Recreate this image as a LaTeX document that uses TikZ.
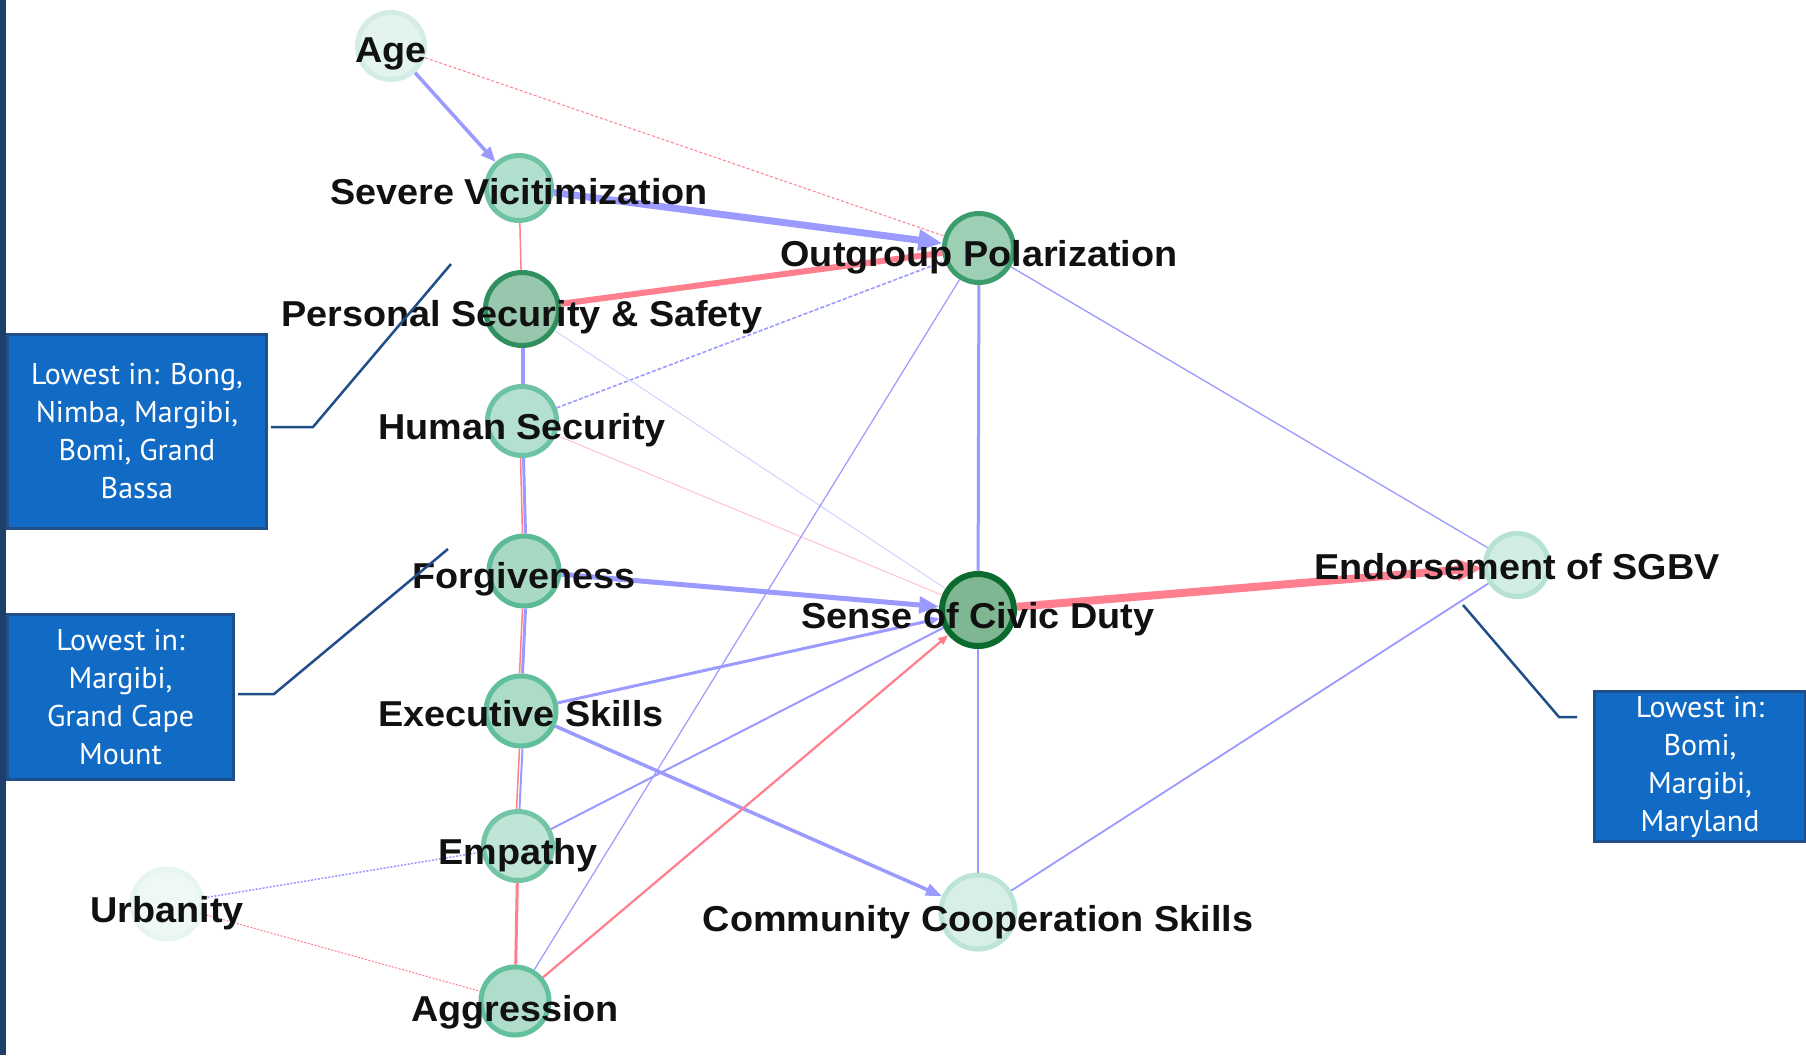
\documentclass[tikz,border=0pt]{standalone}
\usepackage{fontspec}
\setmainfont{Liberation Sans}
\newfontfamily\labfont{Liberation Sans}[FakeStretch=1.05]
\newfontfamily\boxfont{PT Sans}
\usetikzlibrary{arrows.meta}
\definecolor{eblue}{HTML}{9A9AFF}
\definecolor{ered}{HTML}{FF7F8F}
\definecolor{boxblue}{HTML}{116BC4}
\definecolor{boxedge}{HTML}{1F4E89}
\definecolor{navybar}{HTML}{1D3F6A}
\definecolor{txt}{HTML}{111111}
\definecolor{fAge}{HTML}{E3F3EF}\definecolor{dAge}{HTML}{D3ECE5}
\definecolor{fSev}{HTML}{B2E0CF}\definecolor{dSev}{HTML}{6DC3A2}
\definecolor{fOut}{HTML}{9DCFB5}\definecolor{dOut}{HTML}{3C9C6C}
\definecolor{fPer}{HTML}{97C8AD}\definecolor{dPer}{HTML}{2F8F5E}
\definecolor{fHum}{HTML}{B3E0D0}\definecolor{dHum}{HTML}{6CC2A2}
\definecolor{fFor}{HTML}{A8D9C4}\definecolor{dFor}{HTML}{5DBA97}
\definecolor{fCiv}{HTML}{7FB792}\definecolor{dCiv}{HTML}{0B6B2E}
\definecolor{fEnd}{HTML}{D2EDE4}\definecolor{dEnd}{HTML}{B5E2D2}
\definecolor{fExe}{HTML}{ACDCC8}\definecolor{dExe}{HTML}{62BF9C}
\definecolor{fEmp}{HTML}{BFE5D7}\definecolor{dEmp}{HTML}{73C5A6}
\definecolor{fUrb}{HTML}{EEF8F7}\definecolor{dUrb}{HTML}{E6F4F2}
\definecolor{fCom}{HTML}{D8EFE7}\definecolor{dCom}{HTML}{BDE5D7}
\definecolor{fAgg}{HTML}{B0DDCB}\definecolor{dAgg}{HTML}{62C09C}
\begin{document}
\begin{tikzpicture}[x=1pt,y=-1pt,
  vnode/.style={circle, inner sep=0pt, line width=5pt, minimum size=69pt},
  lab/.style={font=\labfont\bfseries\fontsize{36}{40}\selectfont, text=txt, anchor=base, inner sep=0pt},
  callbox/.style={draw=boxedge, line width=3pt, fill=boxblue, text=white, align=center,
    font=\boxfont\fontsize{30}{38}\selectfont, inner sep=0pt, anchor=north west},
  callline/.style={draw=boxedge, line width=2.5pt},
]
\useasboundingbox (0,0) rectangle (1806,1055);
\fill[white] (0,0) rectangle (1806,1055);
\fill[navybar] (0,0) rectangle (6,1055);

% circles
\node[vnode, minimum size=67pt, fill=fAge, draw=dAge] (age) at (391,46) {};
\node[vnode, minimum size=65pt, fill=fSev, draw=dSev] (sev) at (519,188) {};
\node[vnode, minimum size=69pt, fill=fOut, draw=dOut] (out) at (979,248) {};
\node[vnode, minimum size=73pt, fill=fPer, draw=dPer] (per) at (522,309) {};
\node[vnode, minimum size=69pt, fill=fHum, draw=dHum] (hum) at (522,421) {};
\node[vnode, minimum size=70pt, fill=fFor, draw=dFor] (for) at (524,571) {};
\node[vnode, minimum size=72pt, fill=fCiv, draw=dCiv, line width=6pt] (civ) at (978,610) {};
\node[vnode, minimum size=63pt, fill=fEnd, draw=dEnd] (end) at (1517,565) {};
\node[vnode, minimum size=70pt, fill=fExe, draw=dExe] (exe) at (521,711) {};
\node[vnode, minimum size=69pt, fill=fEmp, draw=dEmp] (emp) at (518,846) {};
\node[vnode, minimum size=70pt, fill=fUrb, draw=dUrb] (urb) at (167,904) {};
\node[vnode, minimum size=74pt, fill=fCom, draw=dCom] (com) at (978,912) {};
\node[vnode, minimum size=68pt, fill=fAgg, draw=dAgg] (agg) at (515,1001) {};

% edges
\draw[ered, line width=1pt, dash pattern=on 3pt off 2pt] (age) -- (out);
\draw[eblue, line width=3.5pt, -{Triangle[length=15pt,width=12pt]}] (age) -- (sev);
\draw[eblue, line width=7pt, -{Triangle[length=24pt,width=20pt]}] (sev) -- (out);
\draw[ered, line width=1.5pt] (sev) -- (per);
\draw[ered, line width=6pt] (per) -- (out);
\draw[eblue, line width=1.6pt, dash pattern=on 4pt off 2pt] (hum) -- (out);
\draw[eblue!45, line width=1pt] (per) -- (civ);
\draw[ered!45, line width=1pt] (hum) -- (civ);
\draw[eblue, line width=4pt] ([xshift=0.5pt]per.south) -- ([xshift=0.5pt]hum.north);
\draw[eblue, line width=3pt] ([xshift=1.5pt]hum.south) -- ([xshift=1.5pt]for.north);
\draw[ered, line width=1.5pt] ([xshift=-1.5pt]hum.south) -- ([xshift=-1.5pt]for.north);
\draw[eblue, line width=3pt] ([xshift=1.5pt]for.south) -- ([xshift=1.5pt]exe.north);
\draw[ered, line width=1.5pt] ([xshift=-1.5pt]for.south) -- ([xshift=-1.5pt]exe.north);
\draw[eblue, line width=2pt] ([xshift=1.5pt]exe.south) -- ([xshift=1.5pt]emp.north);
\draw[ered, line width=1.5pt] ([xshift=-1.5pt]exe.south) -- ([xshift=-1.5pt]emp.north);
\draw[ered, line width=3pt] (emp) -- (agg);
\draw[eblue, line width=5pt, -{Triangle[length=20pt,width=16pt]}] (for) -- (civ);
\draw[eblue, line width=3pt, -{Triangle[length=14pt,width=11pt]}] (exe) -- (civ);
\draw[eblue, line width=3.5pt, -{Triangle[length=16pt,width=12pt]}] (exe) -- (com);
\draw[eblue, line width=2pt] (emp) -- (civ);
\draw[ered, line width=2.2pt, -{Triangle[length=10pt,width=8pt]}] (agg) -- (civ);
\draw[eblue, line width=1.2pt] (agg) -- (out);
\draw[eblue, line width=1.5pt, dash pattern=on 2pt off 1.5pt] (urb) -- (emp);
\draw[ered, line width=1pt, dash pattern=on 2pt off 1.5pt] (urb) -- (agg);
\draw[eblue, line width=3pt] (out) -- (civ);
\draw[eblue, line width=1.3pt] (out) -- (end);
\draw[ered, line width=8pt, -{Triangle[length=26pt,width=20pt]}] (civ) -- (end);
\draw[eblue, line width=1.5pt] (civ) -- (com);
\draw[eblue, line width=1.8pt] (com) -- (end);

% labels
\node[lab] (agel) at ([yshift=-16pt]age.center) {Age};
\node[lab] (sevl) at ([yshift=-16pt]sev.center) {Severe Vicitimization};
\node[lab] (outl) at ([yshift=-18pt]out.center) {Outgroup Polarization};
\node[lab] (perl) at ([yshift=-17pt]per.center) {Personal Security \& Safety};
\node[lab] (huml) at ([yshift=-18pt]hum.center) {Human Security};
\node[lab] (forl) at ([yshift=-17pt]for.center) {Forgiveness};
\node[lab] (civl) at ([yshift=-18pt]civ.center) {Sense of Civic Duty};
\node[lab] (endl) at ([yshift=-14pt]end.center) {Endorsement of SGBV};
\node[lab] (exel) at ([yshift=-15pt]exe.center) {Executive Skills};
\node[lab] (empl) at ([yshift=-18pt]emp.center) {Empathy};
\node[lab] (urbl) at ([yshift=-18pt]urb.center) {Urbanity};
\node[lab] (coml) at ([yshift=-19pt]com.center) {Community Cooperation Skills};
\node[lab] (aggl) at ([yshift=-20pt]agg.center) {Aggression};

% callout boxes
\node[callbox, minimum width=259pt, minimum height=194pt] (box1) at (6,333)
  {Lowest in: Bong,\\Nimba, Margibi,\\Bomi, Grand\\Bassa};
\node[callbox, minimum width=226pt, minimum height=165pt] (box2) at (6,613)
  {Lowest in:\\Margibi,\\Grand Cape\\Mount};
\node[callbox, minimum width=211pt, minimum height=150pt] (box3) at (1593,690)
  {Lowest in:\\Bomi,\\Margibi,\\Maryland};

\coordinate (c1a) at (271,427);
\coordinate (c1b) at (313,427);
\coordinate (c1c) at (451,264);
\coordinate (c2a) at (238,694);
\coordinate (c2b) at (274,694);
\coordinate (c2c) at (448,549);
\coordinate (c3a) at (1577,717);
\coordinate (c3b) at (1559,717);
\coordinate (c3c) at (1463,605);
\draw[callline] (c1a) -- (c1b) -- (c1c);
\draw[callline] (c2a) -- (c2b) -- (c2c);
\draw[callline] (c3a) -- (c3b) -- (c3c);
\end{tikzpicture}
\end{document}
